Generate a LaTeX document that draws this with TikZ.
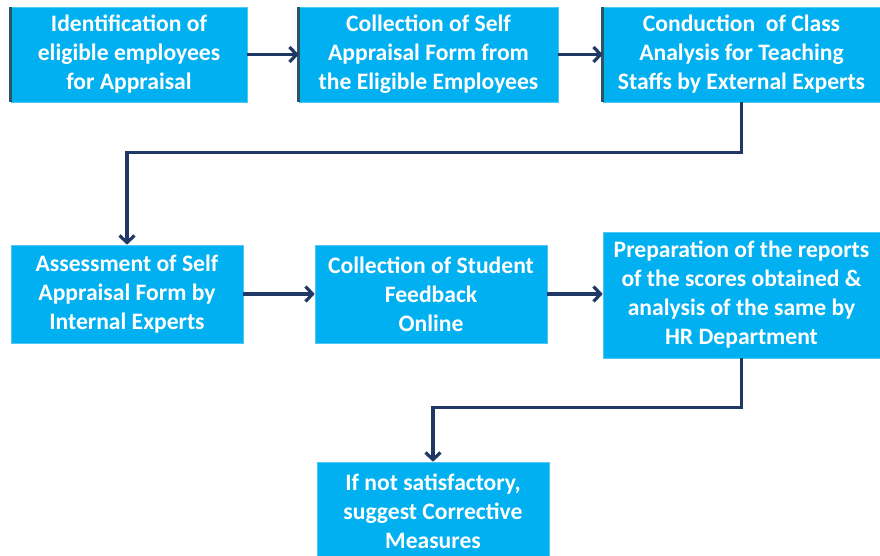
\documentclass[tikz,border=0pt]{standalone}
\usepackage{fontspec}
\setmainfont{Carlito}
\usetikzlibrary{positioning,arrows.meta}
\definecolor{stepcyan}{RGB}{0,176,240}
\definecolor{arrownavy}{RGB}{31,56,100}
\definecolor{edgedark}{RGB}{45,85,105}

\begin{document}
\begin{tikzpicture}[
        x=1pt, y=-1pt,
        stepbox/.style={rectangle, fill=stepcyan, draw=stepcyan!70!white, line width=0.6pt, text=white,
            align=center, font=\fontsize{23.6}{29}\selectfont\bfseries, inner sep=0pt},
        flow/.style={-{Straight Barb[length=7pt,width=15pt,line width=3.2pt]}, line width=3.2pt, arrownavy}
    ]
        \useasboundingbox (0,0) rectangle (880,556);

        % top row
        \node[stepbox, minimum width=236, minimum height=95] (b1) at (129,54.5)
            {Identification of\\eligible employees\\for Appraisal};
        \node[stepbox, minimum width=259, minimum height=95] (b2) at (428.5,54.5)
            {Collection of Self\\Appraisal Form from\\the Eligible Employees};
        \node[stepbox, minimum width=277, minimum height=95] (b3) at (741.5,54.5)
            {Conduction\ \ of Class\\Analysis for Teaching\\Staffs by External Experts};

        % middle row
        \node[stepbox, minimum width=232, minimum height=98] (b4) at (127,294)
            {Assessment of Self\\Appraisal Form by\\Internal Experts};
        \node[stepbox, minimum width=232, minimum height=98] (b5) at (431,294)
            {Collection of Student\\Feedback\\Online};
        \node[stepbox, minimum width=277, minimum height=126] (b6) at (741.5,295)
            {Preparation of the reports\\of the scores obtained \&\\analysis of the same by\\HR Department};

        % last step
        \node[stepbox, minimum width=232, minimum height=98] (b7) at (433,511)
            {If not satisfactory,\\suggest Corrective\\Measures};

        % dark left edges
        \foreach \b in {b1,b2,b3}
            \draw[edgedark, line width=3pt] (\b.north west) -- (\b.south west);

        \draw[flow] (b1) -- (b2);
        \draw[flow] (b2) -- (b3);
        \draw[flow] (b3.south) -- ++(0,50) -| (b4.north);
        \draw[flow] (b4) -- (b5);
        \draw[flow] (b5) -- (b5 -| b6.west);
        \draw[flow] (b6.south) -- ++(0,49) -| (b7.north);
    \end{tikzpicture}
\end{document}
